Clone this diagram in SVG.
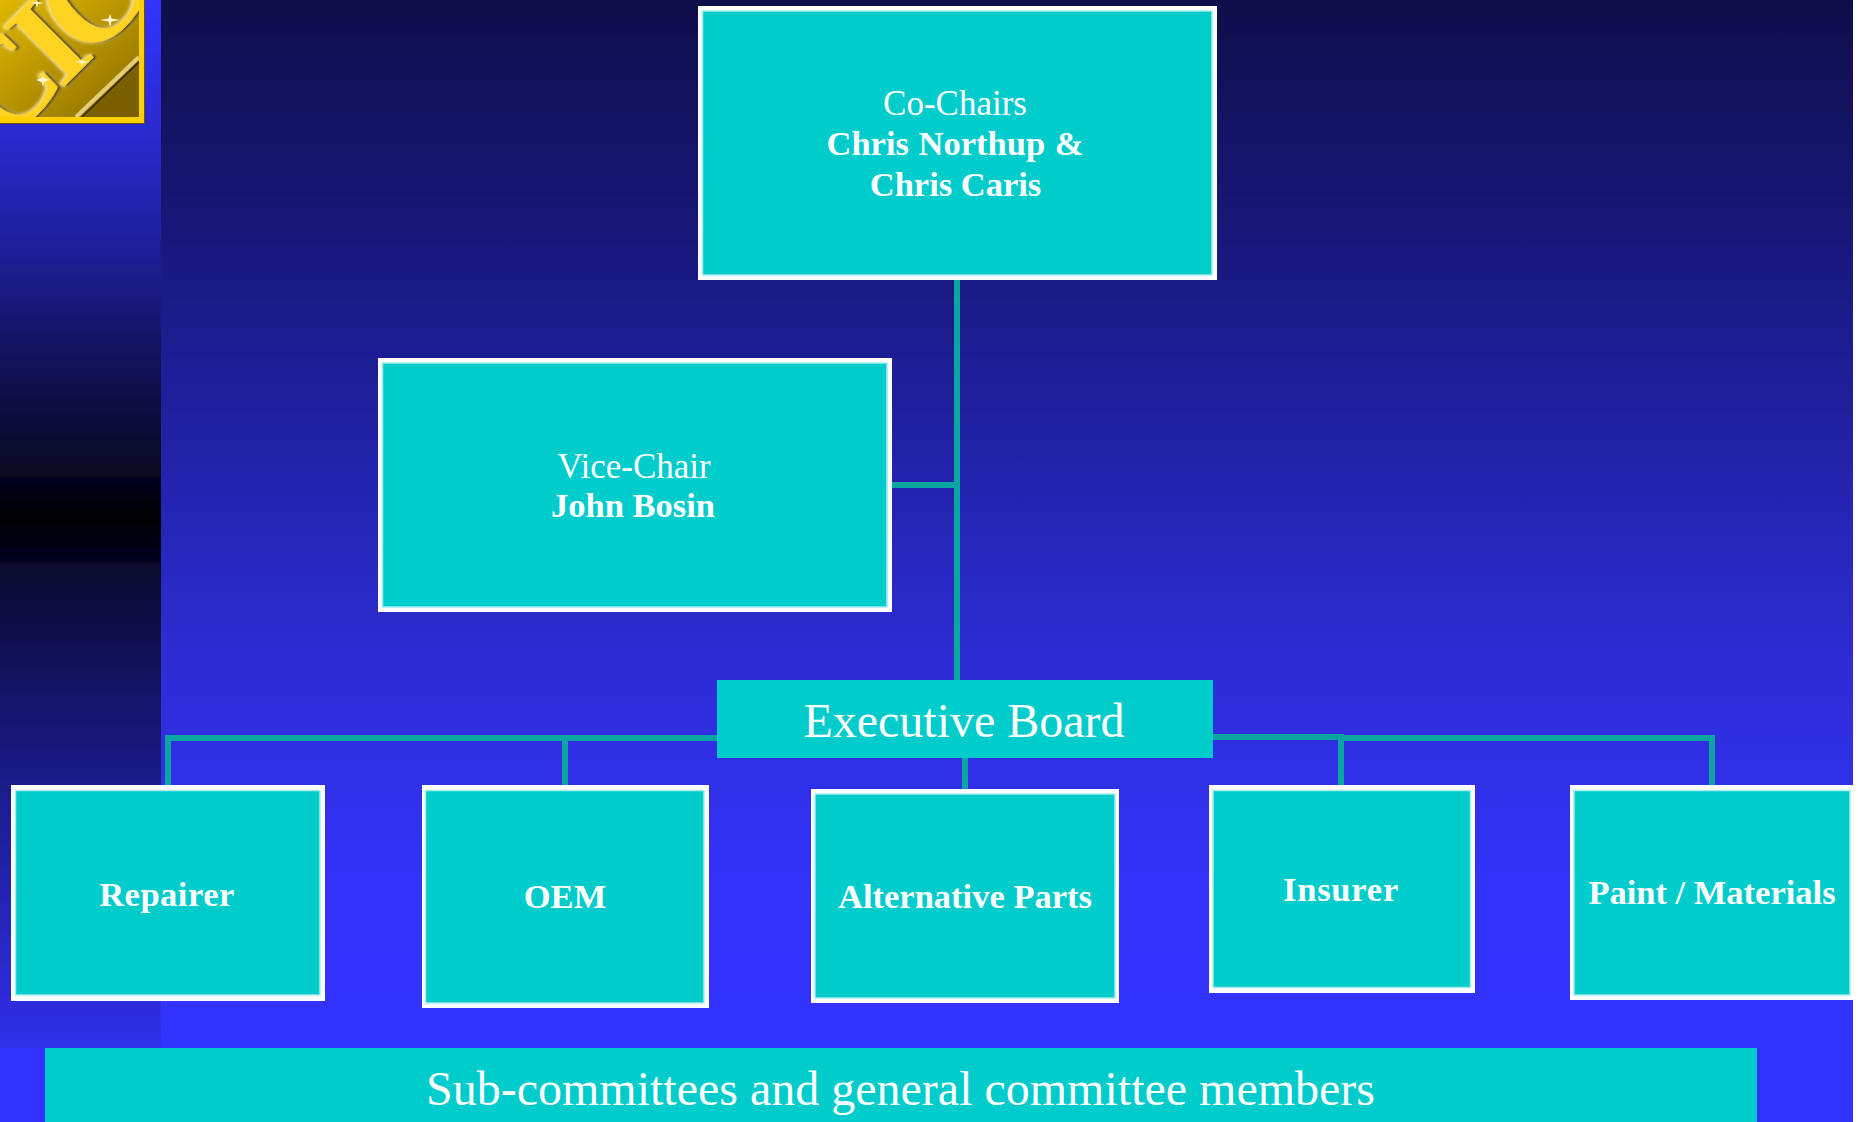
<svg xmlns="http://www.w3.org/2000/svg" width="1858" height="1122" viewBox="0 0 1858 1122">
<style>
.o{fill:#fff}
.i{fill:#00cccc;stroke:#a8ecec;stroke-width:1.5}
.p{fill:#00cccc}
text{fill:#fff;font-family:"Liberation Serif","Times New Roman",serif;text-anchor:middle}
.b{font-weight:700;font-size:34.500px}
.r{font-size:35px}
.l{font-size:48px}
.c{fill:none;stroke:#0aa6a2;stroke-width:6}
</style>
<defs>
<linearGradient id="bg" gradientUnits="userSpaceOnUse" x1="0" y1="0" x2="0" y2="1122"><stop offset="0" stop-color="#0e0e4a"/><stop offset="0.303" stop-color="#1c1c90"/><stop offset="0.588" stop-color="#2d2dd4"/><stop offset="0.8" stop-color="#3333fc"/><stop offset="1" stop-color="#3333ff"/></linearGradient>
<linearGradient id="st" gradientUnits="userSpaceOnUse" x1="0" y1="0" x2="0" y2="1048"><stop offset="0" stop-color="#3333ff"/><stop offset="0.124" stop-color="#2a2ad0"/><stop offset="0.239" stop-color="#1e1e98"/><stop offset="0.382" stop-color="#0e0e44"/><stop offset="0.455" stop-color="#0a0a20"/><stop offset="0.456" stop-color="#000020"/><stop offset="0.493" stop-color="#000"/><stop offset="0.536" stop-color="#000020"/><stop offset="0.537" stop-color="#0a0a2c"/><stop offset="0.668" stop-color="#14146a"/><stop offset="0.763" stop-color="#1c1c90"/><stop offset="1" stop-color="#3030ea"/></linearGradient>
<linearGradient id="gold" x1="0" y1="0" x2="1" y2="1"><stop offset="0" stop-color="#e0b800"/><stop offset="1" stop-color="#8a6c00"/></linearGradient>
<clipPath id="lc"><rect x="0" y="0" width="139" height="117"/></clipPath>
<filter id="em" x="-20%" y="-20%" width="140%" height="140%"><feDropShadow dx="2" dy="2" stdDeviation="1.2" flood-color="#3a2c00"/><feDropShadow dx="-1.5" dy="-1.5" stdDeviation="1.5" flood-color="#f4e4a8"/></filter>
<filter id="gl" x="-50%" y="-50%" width="200%" height="200%"><feGaussianBlur stdDeviation="0.7"/></filter>
</defs>
<rect id="page" width="1858" height="1122" fill="#fff"/>
<rect id="background" width="1853" height="1122" fill="url(#bg)"/>
<rect id="strip" width="161" height="1048" fill="url(#st)"/>
<rect x="0" y="1048" width="45" height="74" fill="#3333ff"/>
<g id="logo">
<rect width="145" height="124" fill="#6a5400"/>
<rect width="144" height="123" fill="#ffd000"/>
<g clip-path="url(#lc)">
<rect width="139" height="117" fill="url(#gold)"/>
<polygon points="84,117 139,64 139,117" fill="#7a6000"/>
<path d="M76 117 L139 57" stroke="#e6cc78" stroke-width="4" fill="none"/>
<path d="M82 117 L139 62" stroke="#3f3000" stroke-width="2" fill="none"/>
<g transform="translate(79 72) rotate(-45)" filter="url(#em)"><text x="-62 0 60" y="0" font-size="130" font-weight="700" style="fill:#ffd324">CIC</text></g>
<g fill="#fff6d0" filter="url(#gl)"><polygon points="110,14 111.500,18.500 120,20 111.500,21.500 110,27 108.500,21.500 100,20 108.500,18.500"/><polygon points="82,58 83,61 90,62 83,63 82,67 81,63 74,62 81,61"/><polygon points="43,74 44,78 50,80 44,82 43,87 42,82 36,80 42,78"/><polygon points="37,0 38,2 44,3 38,4 37,8 36,4 30,3 36,2"/></g>
</g>
</g>
<g id="connectors">
<path class="c" d="M957 280V680"/>
<path class="c" d="M892 485H957"/>
<path class="c" d="M717 738H168V785"/>
<path class="c" d="M565 738V785"/>
<path class="c" d="M965 758V789"/>
<path class="c" d="M1213 737H1341V785"/>
<path class="c" d="M1341 738H1712V785"/>
</g>
<g id="co-chairs"><rect class="o" x="698" y="6" width="519" height="274"/><rect class="i" x="702.500" y="11" width="509.500" height="264"/>
<text class="r" x="955" y="115">Co-Chairs</text><text class="b" x="955" y="154.500" word-spacing="1">Chris Northup &amp;</text><text class="b" x="955.500" y="195.500">Chris Caris</text></g>
<g id="vice-chair"><rect class="o" x="378" y="358" width="514" height="254"/><rect class="i" x="382.500" y="363" width="504.500" height="244"/>
<text class="r" x="634" y="478">Vice-Chair</text><text class="b" x="633" y="517">John Bosin</text></g>
<g id="executive-board"><rect class="p" x="717" y="680" width="496" height="78"/><text class="l" x="964" y="737">Executive Board</text></g>
<g id="repairer"><rect class="o" x="11" y="785" width="314" height="216"/><rect class="i" x="15.500" y="790.500" width="304.500" height="204.500"/><text class="b" x="167" y="906" letter-spacing="0.500">Repairer</text></g>
<g id="oem"><rect class="o" x="422" y="785" width="287" height="223"/><rect class="i" x="425.500" y="790.500" width="278.500" height="212.500"/><text class="b" x="565" y="908">OEM</text></g>
<g id="alternative-parts"><rect class="o" x="811" y="789" width="308" height="214"/><rect class="i" x="815" y="794" width="300" height="204"/><text class="b" x="965" y="908">Alternative Parts</text></g>
<g id="insurer"><rect class="o" x="1209" y="785" width="266" height="208"/><rect class="i" x="1213" y="790.500" width="257.500" height="197"/><text class="b" x="1341" y="901" letter-spacing="0.800">Insurer</text></g>
<g id="paint-materials"><rect class="o" x="1570" y="785" width="283" height="215"/><rect class="i" x="1574" y="790.500" width="276" height="204.500"/><text class="b" x="1712" y="904">Paint / Materials</text></g>
<g id="sub-committees"><rect class="p" x="45" y="1048" width="1712" height="74"/><text class="l" x="900.500" y="1105">Sub-committees and general committee members</text></g>
</svg>
